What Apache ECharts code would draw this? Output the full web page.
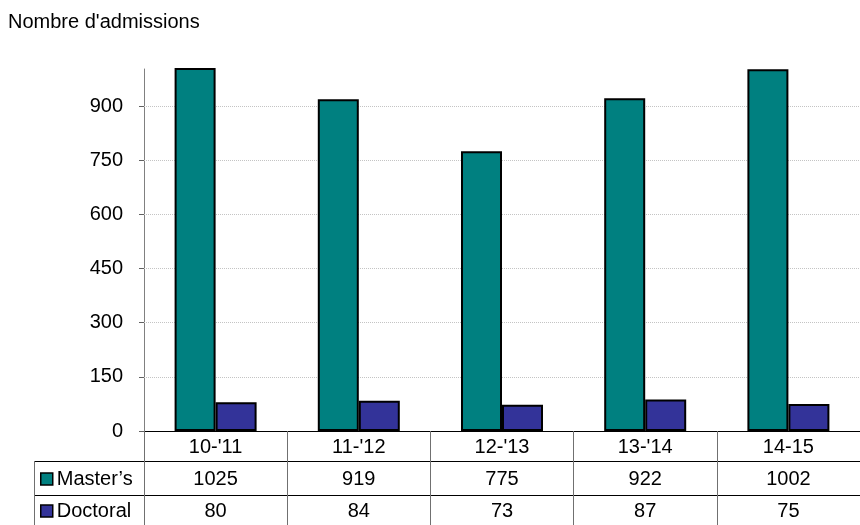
<!DOCTYPE html>
<html><head><meta charset="utf-8">
<script src="https://cdn.jsdelivr.net/npm/echarts@6/dist/echarts.min.js"></script>
<style>html,body{margin:0;padding:0;background:#fff}#c{width:860px;height:525px}</style>
</head><body><div id="c"></div>
<script>
const categories = ["10-'11", "11-'12", "12-'13", "13-'14", "14-15"];
const masters = [1025, 919, 775, 922, 1002];
const doctoral = [80, 84, 73, 87, 75];
const yTicks = [0, 150, 300, 450, 600, 750, 900];
const seriesNames = ["Master\u2019s", "Doctoral"];
const yTitle = "Nombre d'admissions";

const FONT = "'Liberation Sans', Arial, sans-serif";
const FS = 20;
const chart = echarts.init(document.getElementById('c'), null, {renderer: 'canvas'});

const tableAxis = (vals, offset) => ({
  type: 'category', data: categories, position: 'bottom', offset: offset,
  axisLine: {show: false}, axisTick: {show: false}, splitLine: {show: false},
  axisLabel: {margin: 6, fontSize: FS, color: '#000', fontFamily: FONT,
    formatter: (v, i) => String(vals[i])}
});

const option = {
  animation: false,
  backgroundColor: '#fff',
  title: {text: yTitle, left: 8, top: 12, padding: 0, textStyle: {fontSize: FS, fontWeight: 'normal', color: '#000', fontFamily: FONT}},
  legend: {
    orient: 'vertical', left: 40, top: 469, padding: 0, itemGap: 12,
    itemWidth: 12, itemHeight: 12, icon: 'rect',
    itemStyle: {borderColor: '#000', borderWidth: 1.5},
    textStyle: {fontSize: FS, color: '#000', fontFamily: FONT, padding: [0, 0, 0, -1]},
    data: seriesNames
  },
  grid: {left: 144, top: 69, width: 725, height: 362, containLabel: false},
  xAxis: [
    {
      type: 'category', data: categories,
      axisLine: {lineStyle: {color: '#000', width: 1}},
      axisTick: {show: true, length: 94, alignWithLabel: false, lineStyle: {color: '#707070', width: 1}},
      axisLabel: {margin: 6, fontSize: FS, color: '#000', fontFamily: FONT},
      splitLine: {show: false}
    },
    tableAxis(masters, 32),
    tableAxis(doctoral, 64)
  ],
  yAxis: {
    type: 'value', min: 0, max: 1003, interval: 150,
    axisLine: {show: true, lineStyle: {color: '#808080', width: 1}},
    axisTick: {show: true, length: 5, customValues: yTicks, lineStyle: {color: '#606060'}},
    axisLabel: {margin: 21, fontSize: FS, color: '#000', fontFamily: FONT, customValues: yTicks,
      formatter: v => (v % 150 === 0 ? String(v) : '')},
    splitLine: {show: false}
  },
  series: [
    {
      name: seriesNames[0], type: 'bar', data: masters, barWidth: 41, barGap: '0%',
      itemStyle: {color: '#008080', borderColor: '#000', borderWidth: 2},
      markLine: {
        silent: true, symbol: 'none', z: 1, label: {show: false},
        lineStyle: {color: '#c4c4c4', type: 'dotted', width: 1},
        data: yTicks.filter(v => v > 0).map(v => ({yAxis: v}))
      }
    },
    {
      name: seriesNames[1], type: 'bar', data: doctoral, barWidth: 41, barGap: '0%',
      itemStyle: {color: '#333399', borderColor: '#000', borderWidth: 2}
    }
  ],
  graphic: [
    {type: 'line', shape: {x1: 34, y1: 461.5, x2: 860, y2: 461.5}, style: {stroke: '#000', lineWidth: 1}},
    {type: 'line', shape: {x1: 34, y1: 495.5, x2: 860, y2: 495.5}, style: {stroke: '#000', lineWidth: 1}},
    {type: 'line', shape: {x1: 34.5, y1: 461, x2: 34.5, y2: 525}, style: {stroke: '#707070', lineWidth: 1}}
  ]
};
chart.setOption(option);
</script></body></html>
